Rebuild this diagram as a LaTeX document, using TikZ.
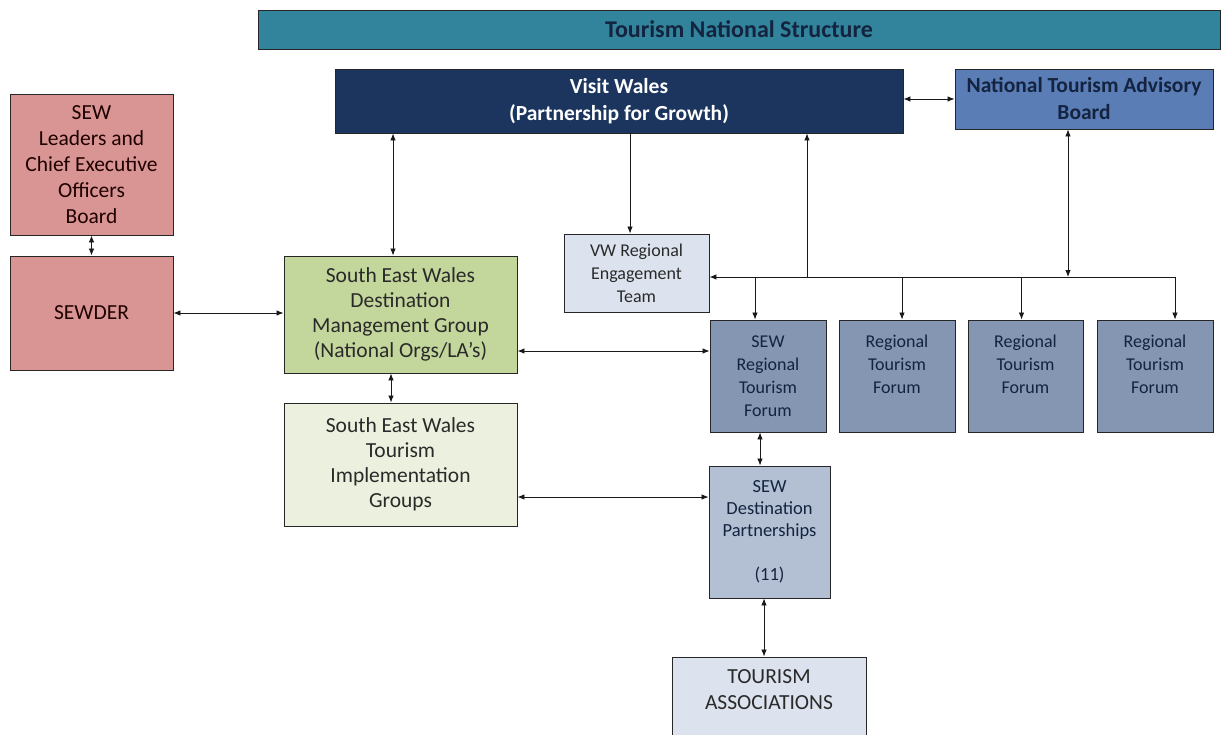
\documentclass[tikz,border=0pt]{standalone}
\usepackage{fontspec}
\setmainfont{Carlito}
\usetikzlibrary{arrows.meta,calc}
\definecolor{banner}{HTML}{31849B}
\definecolor{navy}{HTML}{1B355E}
\definecolor{ntabc}{HTML}{5A7DB6}
\definecolor{pinkc}{HTML}{D99594}
\definecolor{greenc}{HTML}{C3D69B}
\definecolor{paleg}{HTML}{EBF1DE}
\definecolor{palebl}{HTML}{DCE3EE}
\definecolor{forumc}{HTML}{8496B2}
\definecolor{dpc}{HTML}{B3C0D3}
\definecolor{darktxt}{HTML}{2A2A2A}
\definecolor{navytxt}{HTML}{14233F}
\tikzset{
  box/.style={draw=black!85, line width=0.9pt, align=center, inner sep=0pt,
    text=darktxt, font=\fontsize{21.5}{25}\selectfont},
  smallbox/.style={box, font=\fontsize{18}{23}\selectfont},
  conn/.style={line width=0.8pt, draw=black!90, {Latex[length=7pt,width=5.5pt]}-{Latex[length=7pt,width=5.5pt]}},
  oneway/.style={line width=0.8pt, draw=black!90, -{Latex[length=7pt,width=5.5pt]}},
  plain/.style={line width=0.8pt, draw=black!90}
}
\begin{document}
\begin{tikzpicture}[x=1pt,y=-1pt]
\useasboundingbox[fill=white] (0,0) rectangle (1222,735);
% banner
\node[box, fill=banner, minimum width=962pt, minimum height=39pt, text=navytxt,
  font=\fontsize{24}{26}\selectfont\bfseries] (banner) at (739,29.5) {Tourism National Structure};
% top boxes
\node[box, fill=navy, minimum width=568pt, minimum height=64pt, text=white,
  font=\fontsize{21.5}{27}\selectfont\bfseries] (visit) at (619,101) {Visit Wales\\(Partnership for Growth)};
\node[box, fill=ntabc, minimum width=258pt, minimum height=60pt, text=navytxt,
  font=\fontsize{21.5}{27}\selectfont\bfseries] (ntab) at (1084,99) {National Tourism Advisory\\Board};
% left column
\node[box, fill=pinkc, minimum width=163pt, minimum height=141pt, text=black!80!red!60!black,
  font=\fontsize{21.5}{26}\selectfont] (lead) at (91.5,164.5)
  {SEW\\Leaders and\\Chief Executive\\Officers\\Board};
\node[box, fill=pinkc, minimum width=163pt, minimum height=114pt, text=black!80!red!60!black] (sewder) at (91.5,313) {SEWDER};
% green
\node[box, fill=greenc, minimum width=233pt, minimum height=117pt] (dmg) at (400.5,314.5)
  {South East Wales\\Destination\\Management Group\\(National Orgs/LA’s)};
\node[box, fill=paleg, minimum width=233pt, minimum height=123pt] (impl) at (400.5,464.5)
  {South East Wales\\Tourism\\Implementation\\Groups};
% VW regional
\node[smallbox, fill=palebl, minimum width=145pt, minimum height=78pt] (vwret) at (636.5,273)
  {VW Regional\\Engagement\\Team};
% forums
\node[smallbox, fill=forumc, minimum width=116pt, minimum height=112pt, text=navytxt] (f1) at (768,376)
  {SEW\\Regional\\Tourism\\Forum};
\node[smallbox, fill=forumc, minimum width=116pt, minimum height=112pt, text=navytxt] (f2) at (897,376)
  {Regional\\Tourism\\Forum\\\mbox{}};
\node[smallbox, fill=forumc, minimum width=115pt, minimum height=112pt, text=navytxt] (f3) at (1025.5,376)
  {Regional\\Tourism\\Forum\\\mbox{}};
\node[smallbox, fill=forumc, minimum width=116pt, minimum height=112pt, text=navytxt] (f4) at (1155,376)
  {Regional\\Tourism\\Forum\\\mbox{}};
% destination partnerships
\node[smallbox, fill=dpc, minimum width=121pt, minimum height=132pt, text=navytxt,
  font=\fontsize{18.5}{22}\selectfont] (dp) at (769.5,532)
  {SEW\\Destination\\Partnerships\\\mbox{}\\(11)};
% tourism associations
\node[box, fill=palebl, minimum width=194pt, minimum height=92pt,
  font=\fontsize{21.5}{26}\selectfont] (ta) at (769,703)
  {TOURISM\\ASSOCIATIONS\\\mbox{}};
% bus coordinates
\coordinate (bR) at (1175,277);
\coordinate (bV) at (807,277);
% connectors
\draw[conn] (ntab.west) -- (ntab.west -| visit.east);
\draw[conn] (lead.south) -- (sewder.north);
\draw[conn] (sewder.east) -- (sewder.east -| dmg.west);
\draw[conn] ([xshift=-7.5pt]dmg.north) -- ([xshift=-7.5pt]dmg.north |- visit.south);
\draw[conn] ([xshift=-9.5pt]dmg.south) -- ([xshift=-9.5pt]impl.north);
\draw[oneway] ([xshift=-6.5pt]vwret.north |- visit.south) -- ([xshift=-6.5pt]vwret.north);
\draw[oneway] (bR) -- (bR -| vwret.east);
\draw[oneway] (bV) -- (bV |- visit.south);
\draw[conn] ([xshift=-16pt]ntab.south) -- ([xshift=-16pt]ntab.south |- bR);
\draw[oneway] ([xshift=-13pt]f1.north |- bR) -- ([xshift=-13pt]f1.north);
\draw[oneway] ([xshift=5pt]f2.north |- bR) -- ([xshift=5pt]f2.north);
\draw[oneway] ([xshift=-4pt]f3.north |- bR) -- ([xshift=-4pt]f3.north);
\draw[oneway] ([xshift=20pt]f4.north |- bR) -- ([xshift=20pt]f4.north);
\draw[conn] ([yshift=-36.5pt]dmg.east) -- ([yshift=-36.5pt]dmg.east -| f1.west);
\draw[conn] ([yshift=-32.5pt]impl.east) -- ([yshift=-32.5pt]impl.east -| dp.west);
\draw[conn] ([xshift=-8pt]f1.south) -- ([xshift=-8pt]f1.south |- dp.north);
\draw[conn] ([xshift=-5.5pt]dp.south) -- ([xshift=-5.5pt]dp.south |- ta.north);
\end{tikzpicture}
\end{document}
